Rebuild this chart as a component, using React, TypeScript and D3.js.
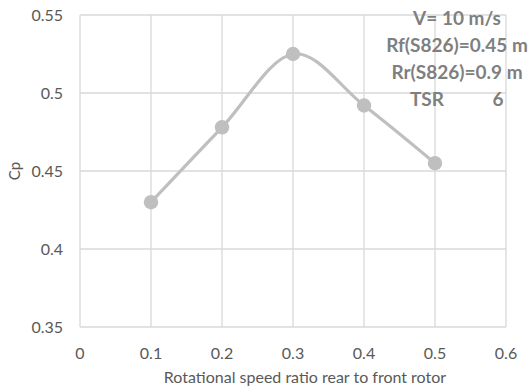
import { useEffect, useRef } from 'react';
import * as d3 from 'd3';

const ratios = [0.1, 0.2, 0.3, 0.4, 0.5];
const cpValues = [0.43, 0.478, 0.525, 0.492, 0.455];
const xTicks = [0, 0.1, 0.2, 0.3, 0.4, 0.5, 0.6];
const yTicks = [0.35, 0.4, 0.45, 0.5, 0.55];
const noteLines = ['V= 10 m/s', 'Rf(S826)=0.45 m', 'Rr(S826)=0.9 m'];

const W = 529;
const H = 390;
const FONT = 'Lato, "Open Sans", sans-serif';

export default function App() {
  const svgRef = useRef<SVGSVGElement>(null);

  useEffect(() => {
    if (!svgRef.current) return;
    const svg = d3.select(svgRef.current);
    svg.selectAll('*').remove();

    const x = d3.scaleLinear().domain([0, 0.6]).range([80, 506]);
    const y = d3.scaleLinear().domain([0.35, 0.55]).range([327, 15]);
    const grid = '#d9d9d9';
    const textColor = '#595959';

    // grid
    svg.append('g').selectAll('line').data(yTicks).join('line')
      .attr('x1', x(0)).attr('x2', x(0.6)).attr('y1', d => y(d)).attr('y2', d => y(d))
      .attr('stroke', grid).attr('stroke-width', 1.3);
    svg.append('g').selectAll('line').data(xTicks).join('line')
      .attr('x1', d => x(d)).attr('x2', d => x(d)).attr('y1', y(0.35)).attr('y2', y(0.55))
      .attr('stroke', grid).attr('stroke-width', 1.3);

    // tick labels
    svg.append('g').selectAll('text').data(yTicks).join('text')
      .attr('x', 63).attr('y', d => y(d)).attr('dy', '0.35em').attr('text-anchor', 'end')
      .attr('fill', textColor).attr('font-size', 16).attr('font-family', FONT)
      .text(d => String(d));
    svg.append('g').selectAll('text').data(xTicks).join('text')
      .attr('x', d => x(d)).attr('y', 353).attr('dy', '0.35em').attr('text-anchor', 'middle')
      .attr('fill', textColor).attr('font-size', 16).attr('font-family', FONT)
      .text(d => String(d));

    // axis titles
    svg.append('text').attr('x', 305).attr('y', 377).attr('dy', '0.35em').attr('text-anchor', 'middle')
      .attr('fill', textColor).attr('font-size', 16).attr('font-family', FONT)
      .text('Rotational speed ratio rear to front rotor');
    svg.append('text').attr('transform', 'translate(15,171) rotate(-90)').attr('dy', '0.35em')
      .attr('text-anchor', 'middle').attr('fill', textColor).attr('font-size', 15).attr('font-family', FONT)
      .text('Cp');

    // series
    const pts = ratios.map((r, i) => [r, cpValues[i]] as [number, number]);
    const line = d3.line<[number, number]>().x(d => x(d[0])).y(d => y(d[1])).curve(d3.curveCardinal.tension(0));
    svg.append('path').datum(pts).attr('d', line).attr('fill', 'none')
      .attr('stroke', '#bfbfbf').attr('stroke-width', 3.2).attr('stroke-linejoin', 'round');
    svg.append('g').selectAll('circle').data(pts).join('circle')
      .attr('cx', d => x(d[0])).attr('cy', d => y(d[1])).attr('r', 7.2).attr('fill', '#bfbfbf');

    // annotation
    const note = svg.append('g').attr('font-family', FONT).attr('font-weight', 'bold')
      .attr('font-size', 19).attr('fill', '#7f7f7f');
    note.selectAll('text.l').data(noteLines).join('text').attr('class', 'l')
      .attr('x', 457).attr('y', (_, i) => 18 + i * 27).attr('dy', '0.35em').attr('text-anchor', 'middle')
      .text(d => d);
    note.append('text').attr('x', 427).attr('y', 99).attr('dy', '0.35em').attr('text-anchor', 'middle').text('TSR');
    note.append('text').attr('x', 498).attr('y', 99).attr('dy', '0.35em').attr('text-anchor', 'middle').text('6');
  }, []);

  return (
    <svg ref={svgRef} width={W} height={H}
      style={{ position: 'absolute', left: 0, top: 0, background: '#fff' }} />
  );
}
